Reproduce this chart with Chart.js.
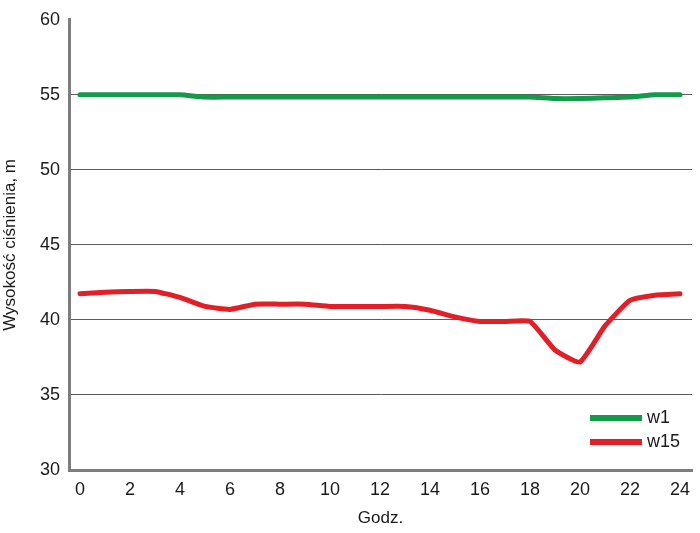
<!DOCTYPE html>
<html lang="pl">
<head>
<meta charset="UTF-8">
<title>Wysokość ciśnienia</title>
<script src="https://cdn.jsdelivr.net/npm/chart.js"></script>
<style>
    body { margin: 0; background: #ffffff; }
    #wrap { width: 700px; height: 533px; }
</style>
</head>
<body>
<div id="wrap"><canvas id="chart" width="700" height="533"></canvas></div>
<script>
    // godziny doby
    const hours = [0,1,2,3,4,5,6,7,8,9,10,11,12,13,14,15,16,17,18,19,20,21,22,23,24];
    // wezel w1
    const w1 = [55.0,55.0,55.0,55.0,55.0,54.85,54.85,54.85,54.85,54.85,54.85,54.85,54.85,54.85,54.85,54.85,54.85,54.85,54.85,54.75,54.75,54.8,54.85,55.0,55.0];
    // wezel w15
    const w15 = [41.75,41.85,41.9,41.9,41.5,40.9,40.7,41.05,41.05,41.05,40.9,40.9,40.9,40.9,40.65,40.2,39.9,39.9,39.9,38.0,37.2,39.6,41.3,41.65,41.75];
    const xTicks = [0,2,4,6,8,10,12,14,16,18,20,22,24];
    const yTicks = [30,35,40,45,50,55,60];

    const FONT = '"Liberation Sans Narrow", "Liberation Sans", Arial, sans-serif';

    const legendInside = {
        id: 'legendInside',
        afterDraw(chart) {
            const ctx = chart.ctx;
            ctx.save();
            chart.data.datasets.forEach((ds, i) => {
                const y = 418 + i * 24;
                ctx.strokeStyle = ds.borderColor;
                ctx.lineWidth = 6;
                ctx.beginPath();
                ctx.moveTo(590, y);
                ctx.lineTo(642, y);
                ctx.stroke();
                ctx.fillStyle = '#1a1a1a';
                ctx.font = '18px ' + FONT;
                ctx.textBaseline = 'middle';
                ctx.fillText(ds.label, 647, y);
            });
            ctx.restore();
        }
    };

    new Chart(document.getElementById('chart'), {
        type: 'line',
        data: {
            datasets: [
                { label: 'w1', data: hours.map((h, i) => ({x: h, y: w1[i]})), borderColor: '#15994a', borderWidth: 5, pointRadius: 0, tension: 0.15, borderCapStyle: 'round', borderJoinStyle: 'round' },
                { label: 'w15', data: hours.map((h, i) => ({x: h, y: w15[i]})), borderColor: '#e21f26', borderWidth: 5, pointRadius: 0, tension: 0.15, borderCapStyle: 'round', borderJoinStyle: 'round' }
            ]
        },
        options: {
            responsive: false,
            animation: false,
            layout: { padding: { top: 10, right: 8, bottom: 0, left: 0 } },
            plugins: { legend: { display: false }, tooltip: { enabled: false } },
            scales: {
                x: {
                    type: 'linear',
                    min: -0.44,
                    max: 24.48,
                    afterBuildTicks: axis => { axis.ticks = xTicks.map(v => ({value: v})); },
                    afterFit: axis => { axis.height = 63; },
                    grid: { display: false, drawTicks: false },
                    border: { color: '#7d7d7d', width: 3 },
                    ticks: { padding: 9, color: '#1a1a1a', font: { family: FONT, size: 18 } },
                    title: { display: true, text: 'Godz.', color: '#1a1a1a', font: { family: FONT, size: 17 }, padding: { top: 0, bottom: 4 } }
                },
                y: {
                    min: 30,
                    max: 60,
                    afterBuildTicks: axis => { axis.ticks = yTicks.map(v => ({value: v})); },
                    afterFit: axis => { axis.width = 69; },
                    grid: { drawTicks: false, color: ctx => ctx.tick && ctx.tick.value === 60 ? 'rgba(0,0,0,0)' : '#5c5c5c', lineWidth: 1 },
                    border: { color: '#7d7d7d', width: 3 },
                    ticks: { padding: 9, color: '#1a1a1a', font: { family: FONT, size: 18 } },
                    title: { display: true, text: 'Wysokość ciśnienia, m', color: '#1a1a1a', font: { family: FONT, size: 17 }, padding: { top: 0, bottom: 2 } }
                }
            }
        },
        plugins: [legendInside]
    });
</script>
</body>
</html>
